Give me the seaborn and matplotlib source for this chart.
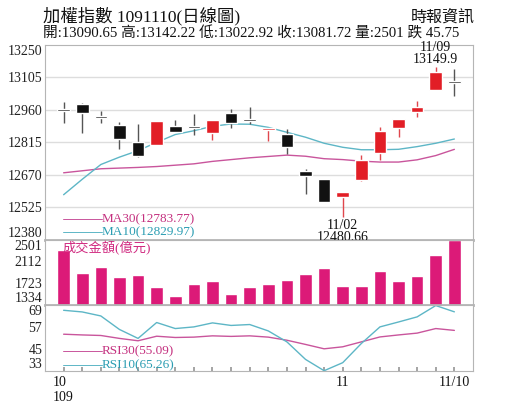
import matplotlib
matplotlib.use("Agg")
import matplotlib.pyplot as plt
import seaborn as sns
import numpy as np
import pandas as pd

# STYLE
sns.set_theme(style="white")
plt.rcParams['font.family'] = ['Liberation Serif', 'Noto Sans CJK TC']

RED = '#e21e26'
BLACK = '#111111'
MAGENTA = '#dc1a78'
MA30_C = '#c9559c'
MA10_C = '#5db6c6'
GRID = '#dddddd'
FRAME = '#b5b5b5'

# DATA
dates = ['10/12', '10/13', '10/14', '10/15', '10/16', '10/19', '10/20', '10/21',
         '10/22', '10/23', '10/26', '10/27', '10/28', '10/29', '10/30', '11/02',
         '11/03', '11/04', '11/05', '11/06', '11/09', '11/10']
opens = [12958, 12986, 12930, 12893, 12815, 12805, 12890, 12889, 12856, 12944, 12921,
         12869, 12853, 12688, 12651, 12570, 12645, 12768, 12879, 12952, 13051, 13090.65]
highs = [12996, 12992, 12953, 12907, 12897, 12911, 12915, 12942, 12917, 12962, 12974,
         12874, 12875, 12698, 12653, 12595, 12759, 12885, 12920, 12998, 13149.9, 13142.22]
lows = [12900, 12857, 12900, 12786, 12750, 12803, 12862, 12848, 12827, 12878, 12896,
        12820, 12764, 12586, 12548, 12480.66, 12643, 12737, 12841, 12927, 13049, 13022.92]
closes = [12955, 12948, 12923, 12829, 12752, 12909, 12863, 12880, 12915, 12900, 12910,
          12873, 12796, 12666, 12550, 12592, 12737, 12867, 12918, 12973, 13127.47, 13081.72]
volume = [2324, 1912, 2006, 1829, 1877, 1652, 1488, 1705, 1758, 1529, 1652,
          1711, 1788, 1895, 2001, 1670, 1682, 1935, 1764, 1859, 2230, 2501]
ma10 = [12581, 12650, 12716, 12749, 12778, 12815, 12850, 12867, 12887, 12897, 12896,
        12882, 12860, 12838, 12811, 12793, 12782, 12782, 12784, 12796, 12811, 12829.97]
ma30 = [12679, 12688, 12697, 12700, 12703, 12707, 12713, 12719, 12730, 12738, 12746,
        12752, 12758, 12753, 12742, 12738, 12731, 12727, 12727, 12737, 12756, 12783.77]
rsi10 = [66.1, 65.2, 63.0, 55.6, 50.7, 59.4, 56.1, 57.0, 59.2, 57.8, 58.3,
         54.8, 48.8, 39.2, 33.0, 37.4, 47.9, 57.0, 59.7, 62.5, 68.7, 65.26]
rsi30 = [53.0, 52.6, 52.3, 50.7, 49.4, 51.9, 51.2, 51.4, 52.1, 51.8, 52.1,
         51.4, 49.7, 47.4, 45.0, 46.1, 48.8, 51.5, 52.6, 53.6, 56.1, 55.09]

price_ticks = [12380, 12525, 12670, 12815, 12960, 13105, 13250]
vol_ticks = [1334, 1723, 2112, 2501]
rsi_ticks = [33, 45, 57, 69]
x_labels = {0: '10\n109', 15: '11', 21: '11/10'}

df = pd.DataFrame({'idx': np.arange(len(dates)), 'open': opens, 'high': highs,
                   'low': lows, 'close': closes, 'vol': volume, 'ma10': ma10,
                   'ma30': ma30, 'rsi10': rsi10, 'rsi30': rsi30})


def style_panel(ax, ticks):
    ax.set_ylim(ticks[0], ticks[-1])
    ax.set_yticks(ticks)
    ax.set_yticklabels([str(t) for t in ticks], fontsize=10)
    labels = ax.get_yticklabels()
    labels[0].set_va('bottom')
    labels[-1].set_va('top')
    ax.tick_params(axis='y', length=0, pad=2, colors='#222222')
    ax.set_xlim(-1, 22)
    ax.set_xlabel('')
    ax.set_ylabel('')
    for s in ax.spines.values():
        s.set_color(FRAME)
        s.set_linewidth(0.8)


fig = plt.figure(figsize=(5.15, 4.13), dpi=100)
ax1 = fig.add_axes([0.0874, 0.4196, 0.831, 0.4714])
ax2 = fig.add_axes([0.0874, 0.2615, 0.831, 0.1581])
ax3 = fig.add_axes([0.0874, 0.1024, 0.831, 0.1591])

# --- price panel ---
style_panel(ax1, price_ticks)
for t in price_ticks[1:-1]:
    ax1.axhline(t, color=GRID, lw=1, zorder=0)
sns.lineplot(data=df, x='idx', y='ma30', ax=ax1, color=MA30_C, lw=1.0, zorder=2)
sns.lineplot(data=df, x='idx', y='ma10', ax=ax1, color=MA10_C, lw=1.0, zorder=2)
up = df['close'] >= df['open']
colors = np.where(up, RED, BLACK)
wick_colors = np.where(up, '#e0474d', '#555555')
ax1.vlines(df['idx'], df['low'], df['high'], colors=wick_colors, lw=1, zorder=3)
body_lo = np.minimum(df['open'], df['close'])
body_h = np.maximum((df['close'] - df['open']).abs(), 9)
ax1.bar(df['idx'], body_h, bottom=body_lo, width=0.68, color=colors, zorder=4)
ax1.set_xlim(-1, 22)
ax1.set_xlabel('')
ax1.set_ylabel('')
ax1.set_xticks([])
ax1.spines['bottom'].set_linewidth(2)

ax1.annotate('11/09\n13149.9', xy=(20, highs[20]), xytext=(0, 1), textcoords='offset points',
             ha='center', va='bottom', fontsize=10, linespacing=0.95, color='#111111')
ax1.annotate('11/02\n12480.66', xy=(15, lows[15]), xytext=(0, -1), textcoords='offset points',
             ha='center', va='top', fontsize=10, linespacing=0.95, color='#111111')

for yy, name, val, lc, tc in [(0.106, 'MA30', ma30[-1], MA30_C, '#c4307f'),
                              (0.040, 'MA10', ma10[-1], MA10_C, '#2b9db2')]:
    ax1.plot([0.042, 0.133], [yy, yy], transform=ax1.transAxes, color=lc, lw=0.7)
    ax1.text(0.133, yy, f'{name}({val:.2f})', transform=ax1.transAxes, color=tc,
             fontsize=9.5, va='center', ha='left')

# --- volume panel ---
sns.barplot(data=df, x='idx', y='vol', ax=ax2, color=MAGENTA, width=0.68,
            saturation=1, native_scale=True)
style_panel(ax2, vol_ticks)
ax2.set_xticks([])
ax2.spines['bottom'].set_linewidth(2)
ax2.text(0.042, 0.877, '成交金額(億元)', transform=ax2.transAxes, color='#d02a80',
         fontsize=9.5, va='center', ha='left')

# --- RSI panel ---
sns.lineplot(data=df, x='idx', y='rsi30', ax=ax3, color=MA30_C, lw=1.0)
sns.lineplot(data=df, x='idx', y='rsi10', ax=ax3, color=MA10_C, lw=1.0)
style_panel(ax3, rsi_ticks)
ax3.set_xticks(df['idx'])
ax3.set_xticklabels([x_labels.get(i, '') for i in df['idx']], fontsize=10,
                    multialignment='left')
ax3.tick_params(axis='x', direction='in', length=3, color='#999999', pad=4,
                bottom=True, labelcolor='#111111')
for yy, name, val, lc, tc in [(0.30, 'RSI30', rsi30[-1], MA30_C, '#c4307f'),
                              (0.086, 'RSI10', rsi10[-1], MA10_C, '#2b9db2')]:
    ax3.plot([0.042, 0.133], [yy, yy], transform=ax3.transAxes, color=lc, lw=0.7)
    ax3.text(0.133, yy, f'{name}({val:.2f})', transform=ax3.transAxes, color=tc,
             fontsize=9.5, va='center', ha='left')

# --- header ---
fig.text(0.084, 0.962, '加權指數 1091110(日線圖)', fontsize=12.5, va='center', ha='left',
         color='#111111')
fig.text(0.922, 0.958, '時報資訊', fontsize=11.5, va='center', ha='right', color='#111111')
fig.text(0.084, 0.918, '開:13090.65 高:13142.22 低:13022.92 收:13081.72 量:2501 跌 45.75',
         fontsize=10.6, va='center', ha='left', color='#111111')

fig.savefig('out.png', dpi=100)
